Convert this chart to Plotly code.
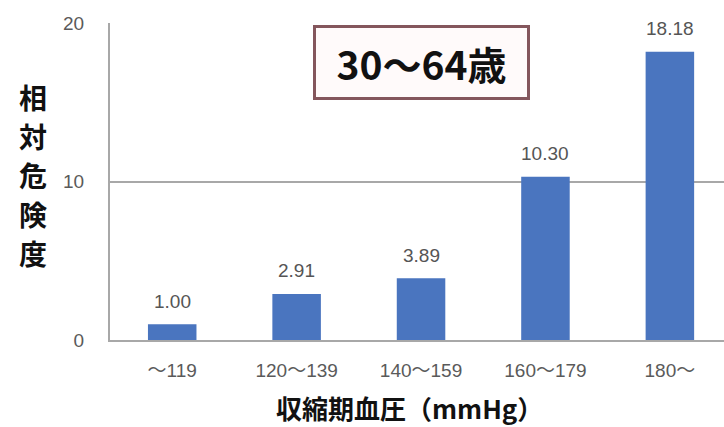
import plotly.graph_objects as go

categories = ["～119", "120～139", "140～159", "160～179", "180～"]
relative_risk = [1.00, 2.91, 3.89, 10.30, 18.18]
y_ticks = [0, 10, 20]
y_title_chars = list("相対危険度")

PLOT_TOP, PLOT_BOTTOM = 23, 340
FIG_H = 427

fig = go.Figure()
fig.add_trace(go.Bar(
    x=list(range(len(categories))),
    y=relative_risk,
    width=0.39,
    marker=dict(color="#4a75bf", line=dict(width=0)),
))

# value labels above each bar
for i, v in enumerate(relative_risk):
    fig.add_annotation(
        x=i, y=v, xref="x", yref="y", text=f"{v:.2f}", showarrow=False,
        yanchor="middle", yshift=23,
        font=dict(size=19, color="#555555", family="Liberation Sans, Arial"),
    )

fig.update_layout(
    width=724, height=FIG_H,
    margin=dict(l=110, r=0, t=PLOT_TOP, b=FIG_H - PLOT_BOTTOM),
    paper_bgcolor="white", plot_bgcolor="white",
    showlegend=False,
    font=dict(family="Noto Sans CJK JP, sans-serif"),
    xaxis=dict(
        range=[-0.5, 4.435],
        tickmode="array",
        tickvals=list(range(len(categories))),
        ticktext=categories,
        tickfont=dict(size=19, color="#5a5a5a", family="Liberation Sans, Noto Sans CJK JP"),
        showline=True, linecolor="#a8a8a8", linewidth=2,
        showgrid=False, ticks="", ticklabelstandoff=12,
    ),
    yaxis=dict(
        range=[0, 20],
        tickvals=y_ticks,
        tickfont=dict(size=19, color="#5a5a5a", family="Liberation Sans, Arial"),
        showline=True, linecolor="#a8a8a8", linewidth=2,
        showgrid=True, gridcolor="#a8a8a8", gridwidth=2,
        zeroline=False, ticks="", ticklabelstandoff=20,
    ),
)

# vertical y-axis title, one character per line
plot_h = PLOT_BOTTOM - PLOT_TOP
for k, ch in enumerate(y_title_chars):
    cy = 97 + 39 * k
    fig.add_annotation(
        text=f"<b>{ch}</b>", xref="paper", yref="paper",
        x=(33 - 110) / 614, y=(PLOT_BOTTOM - cy) / plot_h,
        xanchor="center", yanchor="middle", showarrow=False,
        font=dict(size=28, color="#111111", family="Noto Sans CJK JP"),
    )

fig.add_annotation(
    text="<b>収縮期血圧（mmHg）</b>", xref="paper", yref="paper",
    x=(409 - 110) / 614, y=(PLOT_BOTTOM - 407) / plot_h,
    xanchor="center", yanchor="middle", showarrow=False,
    font=dict(size=26, color="#111111", family="Noto Sans CJK JP"),
)

# age-group label box
fig.add_annotation(
    text="<b>30～64歳</b>", xref="paper", yref="paper",
    x=(421.5 - 110) / 614, y=(PLOT_BOTTOM - 62.5) / plot_h,
    xanchor="center", yanchor="middle", showarrow=False,
    font=dict(size=39, color="#111111", family="Noto Sans CJK JP"),
    bordercolor="#84565c", borderwidth=3, borderpad=4, bgcolor="#fffafa",
    width=203, height=61,
)

fig.write_html("out.html")
